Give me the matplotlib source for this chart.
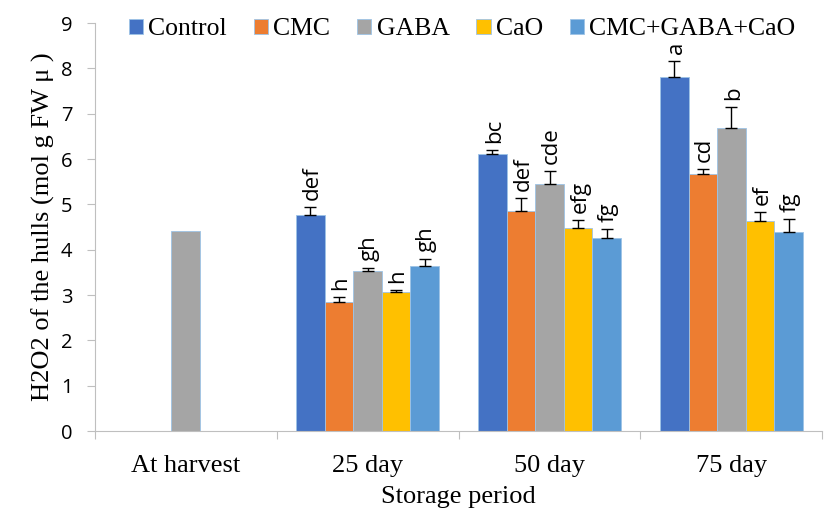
import matplotlib.pyplot as plt
import numpy as np

# storage periods and treatments
periods = ['At harvest', '25 day', '50 day', '75 day']
treatments = ['Control', 'CMC', 'GABA', 'CaO', 'CMC+GABA+CaO']
colors = ['#4472C4', '#ED7D31', '#A5A5A5', '#FFC000', '#5B9BD5']

# H2O2 values (nan = not measured)
control = [np.nan, 4.77, 6.11, 7.81]
cmc = [np.nan, 2.85, 4.86, 5.67]
gaba = [4.41, 3.53, 5.45, 6.69]
cao = [np.nan, 3.07, 4.48, 4.64]
mix = [np.nan, 3.64, 4.26, 4.39]

# error bar sizes
control_err = [np.nan, 0.17, 0.09, 0.36]
cmc_err = [np.nan, 0.11, 0.28, 0.11]
gaba_err = [0.0, 0.07, 0.29, 0.46]
cao_err = [np.nan, 0.04, 0.18, 0.19]
mix_err = [np.nan, 0.16, 0.20, 0.29]

# significance letters
control_lab = ['', 'def', 'bc', 'a']
cmc_lab = ['', 'h', 'def', 'cd']
gaba_lab = ['', 'gh', 'cde', 'b']
cao_lab = ['', 'h', 'efg', 'ef']
mix_lab = ['', 'gh', 'fg', 'fg']

values = [control, cmc, gaba, cao, mix]
errors = [control_err, cmc_err, gaba_err, cao_err, mix_err]
letters = [control_lab, cmc_lab, gaba_lab, cao_lab, mix_lab]

fig = plt.figure(figsize=(8.24, 5.12), dpi=100)
ax = fig.add_axes([0.115, 0.158, 0.883, 0.797])

x = np.arange(len(periods))
w = 0.157
for i, name in enumerate(treatments):
    pos = x + (i - 2) * w
    ax.bar(pos, values[i], width=w, color=colors[i], label=name,
           edgecolor='#9DC3E6', linewidth=0.6)
    ax.errorbar(pos[1:], values[i][1:], yerr=[np.zeros(3), errors[i][1:]],
                fmt='none', ecolor='black', elinewidth=1, capsize=4, capthick=1)
    for j in range(1, len(periods)):
        top = values[i][j] + errors[i][j]
        ax.text(pos[j] + 0.01, top + 0.15, letters[i][j], rotation=90, ha='center',
                va='bottom', fontsize=16, family='Open Sans')

ax.set_xlim(-0.5, 3.5)
ax.set_ylim(0, 9)
ax.set_yticks(range(10))
ax.set_yticklabels([str(v) for v in range(10)], family='Open Sans', fontsize=14.5)

ax.set_xticks(np.arange(-0.5, 4, 1))
ax.set_xticklabels([])
ax.set_xticks(x, minor=True)
ax.set_xticklabels(periods, minor=True, family='Liberation Serif', fontsize=19)
ax.tick_params(axis='x', which='minor', length=0, pad=17)
ax.tick_params(axis='x', which='major', length=6, color='#BFBFBF')
ax.tick_params(axis='y', length=6, color='#BFBFBF', pad=10)

for s in ['top', 'right']:
    ax.spines[s].set_visible(False)
ax.spines['left'].set_color('#BFBFBF')
ax.spines['bottom'].set_color('#BFBFBF')

ax.set_ylabel('H2O2 of the hulls (mol g FW μ )', family='Liberation Serif', fontsize=19,
              labelpad=4)
ax.set_xlabel('Storage period', family='Liberation Serif', fontsize=19, labelpad=7)

ax.legend(loc='upper center', bbox_to_anchor=(0.505, 1.068), ncol=5, frameon=False,
          prop={'family': 'Liberation Serif', 'size': 18.5}, handlelength=0.55,
          handleheight=0.55, handletextpad=0.2, columnspacing=1.05)

plt.savefig('out.png', dpi=100)
